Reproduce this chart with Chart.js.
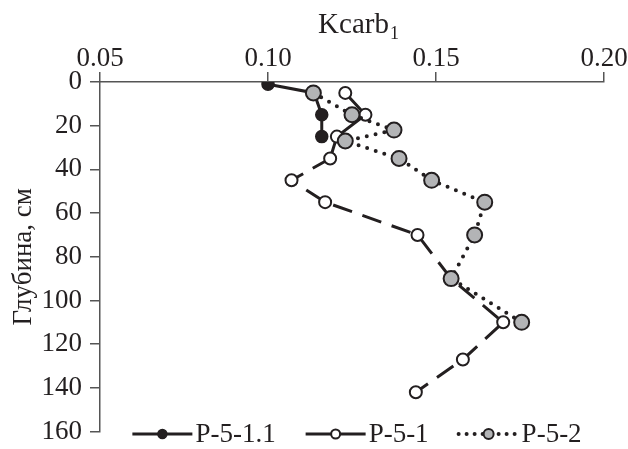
<!DOCTYPE html>
<html>
<head>
<meta charset="utf-8">
<script src="https://cdn.jsdelivr.net/npm/chart.js@4.4.1/dist/chart.umd.min.js"></script>
<style>
  html, body { margin: 0; padding: 0; background: #fff; }
  #wrap { width: 628px; height: 449px; }
</style>
</head>
<body>
<div id="wrap"><canvas id="chart" width="628" height="449"></canvas></div>
<script>
// series labels
const seriesNames = ["P-5-1.1", "P-5-1", "P-5-2"];

// depth (cm) and Kcarb1 for each profile
const depth511 = [1, 5, 15, 25];
const kcarb511 = [0.100, 0.1137, 0.116, 0.116];

const depth51 = [5, 15, 25, 35, 45, 55, 70, 90, 110, 127, 142];
const kcarb51 = [0.123, 0.129, 0.1205, 0.1185, 0.107, 0.117, 0.1445, 0.1545, 0.170, 0.158, 0.144];

const depth52 = [5, 15, 22, 27, 35, 45, 55, 70, 90, 110];
const kcarb52 = [0.1135, 0.125, 0.1375, 0.123, 0.139, 0.1487, 0.1645, 0.1615, 0.1545, 0.1755];

// axis ticks
const xTicks = [0.05, 0.10, 0.15, 0.20];
const yTicks = [0, 20, 40, 60, 80, 100, 120, 140, 160];

const ink = "#231f20";
const axisGray = "#555555";
const fontFamily = '"Liberation Serif", "Times New Roman", serif';
const fontSize = 27;

function toPoints(xs, ys) {
  return xs.map((x, i) => ({ x: x, y: ys[i] }));
}

const datasets = [
  {
    label: seriesNames[0],
    data: toPoints(kcarb511, depth511),
    borderColor: ink,
    borderWidth: 3,
    pointRadius: 6,
    pointBackgroundColor: ink,
    pointBorderColor: ink,
    pointBorderWidth: 1.5,
    legendDash: [],
    legendRadius: 4.5,
    order: 3
  },
  {
    label: seriesNames[1],
    data: toPoints(kcarb51, depth51),
    borderColor: ink,
    borderWidth: 3,
    segment: {
      borderDash: ctx => (ctx.p0DataIndex < 3 ? [] : [20, 11])
    },
    pointRadius: 6,
    pointBackgroundColor: "#ffffff",
    pointBorderColor: ink,
    pointBorderWidth: 2,
    legendDash: [],
    legendRadius: 4.5,
    order: 2
  },
  {
    label: seriesNames[2],
    data: toPoints(kcarb52, depth52),
    borderColor: ink,
    borderWidth: 4,
    borderDash: [0, 9],
    borderCapStyle: "round",
    pointRadius: 7.5,
    pointBackgroundColor: "#b3b4b6",
    pointBorderColor: ink,
    pointBorderWidth: 2,
    legendDash: [0, 8],
    legendRadius: 5,
    order: 1
  }
];

// title with subscript and the legend at the bottom of the plot
const decorPlugin = {
  id: "decor",
  afterDraw(chart) {
    const ctx = chart.ctx;
    ctx.save();
    ctx.fillStyle = ink;

    // x axis title
    ctx.font = "29px " + fontFamily;
    ctx.textBaseline = "alphabetic";
    const main = "Kcarb";
    const mw = ctx.measureText(main).width;
    ctx.font = "18px " + fontFamily;
    const sw = ctx.measureText("1").width;
    const tx = 358 - (mw + sw) / 2;
    ctx.font = "29px " + fontFamily;
    ctx.fillText(main, tx, 33);
    ctx.font = "18px " + fontFamily;
    ctx.fillText("1", tx + mw + 1, 39);

    // legend
    const y = 434;
    const lineLen = 60, textGap = 3, itemGap = 30;
    ctx.font = fontSize + "px " + fontFamily;
    ctx.textBaseline = "middle";
    const items = chart.data.datasets.map(ds => ({ ds: ds, w: ctx.measureText(ds.label).width }));
    const total = items.reduce((s, it) => s + lineLen + textGap + it.w, 0) + itemGap * (items.length - 1);
    let x = 357 - total / 2;
    items.forEach(it => {
      const ds = it.ds;
      ctx.strokeStyle = ds.borderColor;
      ctx.lineWidth = ds.borderWidth;
      ctx.lineCap = ds.borderCapStyle || "butt";
      ctx.setLineDash(ds.legendDash);
      ctx.beginPath();
      ctx.moveTo(x, y);
      ctx.lineTo(x + lineLen, y);
      ctx.stroke();
      ctx.setLineDash([]);
      ctx.beginPath();
      ctx.arc(x + lineLen / 2, y, ds.legendRadius, 0, Math.PI * 2);
      ctx.fillStyle = ds.pointBackgroundColor;
      ctx.fill();
      ctx.lineWidth = ds.pointBorderWidth;
      ctx.strokeStyle = ds.pointBorderColor;
      ctx.stroke();
      ctx.fillStyle = ink;
      ctx.fillText(ds.label, x + lineLen + textGap, y + 1);
      x += lineLen + textGap + it.w + itemGap;
    });
    ctx.restore();
  }
};

new Chart(document.getElementById("chart"), {
  type: "scatter",
  data: { datasets: datasets },
  options: {
    responsive: false,
    animation: false,
    showLine: true,
    layout: { padding: { left: 0, top: 0, right: 24, bottom: 10 } },
    plugins: {
      legend: { display: false },
      tooltip: { enabled: false }
    },
    scales: {
      x: {
        type: "linear",
        position: "top",
        min: xTicks[0],
        max: xTicks[xTicks.length - 1],
        afterBuildTicks: s => { s.ticks = xTicks.map(v => ({ value: v })); },
        afterFit: s => { s.height = 82; },
        grid: { display: true, drawOnChartArea: false, drawTicks: true, tickLength: 10, color: axisGray, lineWidth: 1.5 },
        border: { display: true, color: axisGray, width: 1.5 },
        ticks: {
          color: ink,
          padding: 0,
          font: { family: fontFamily, size: fontSize, lineHeight: 1 },
          callback: v => Number(v).toFixed(2)
        }
      },
      y: {
        type: "linear",
        position: "left",
        reverse: true,
        min: yTicks[0],
        max: yTicks[yTicks.length - 1],
        afterBuildTicks: s => { s.ticks = yTicks.map(v => ({ value: v })); },
        afterFit: s => { s.width = 100; },
        grid: { display: true, drawOnChartArea: false, drawTicks: true, tickLength: 10, color: axisGray, lineWidth: 1.5 },
        border: { display: true, color: axisGray, width: 1.5 },
        ticks: {
          color: ink,
          padding: 8,
          font: { family: fontFamily, size: fontSize, lineHeight: 0.7 }
        },
        title: {
          display: true,
          text: "Глубина, см",
          color: ink,
          padding: { top: 8, bottom: 0 },
          font: { family: fontFamily, size: fontSize, lineHeight: 1.2 }
        }
      }
    }
  },
  plugins: [decorPlugin]
});
</script>
</body>
</html>
